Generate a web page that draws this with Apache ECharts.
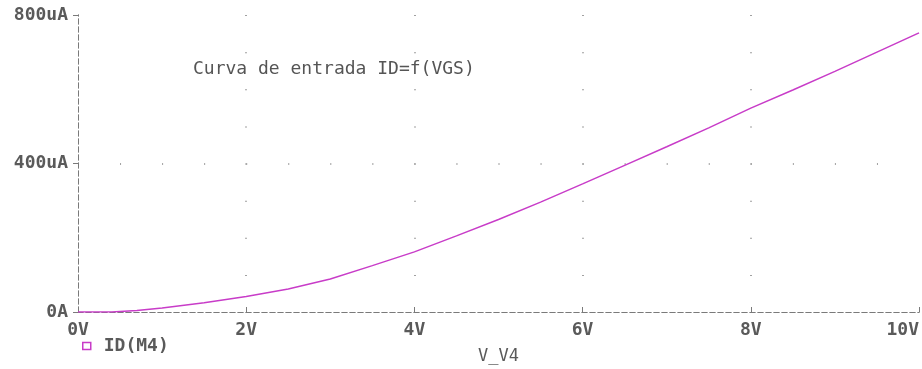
<!DOCTYPE html>
<html>
<head>
<meta charset="utf-8">
<script src="https://cdn.jsdelivr.net/npm/echarts@6/dist/echarts.min.js"></script>
<style>
  html, body { margin: 0; padding: 0; background: #ffffff; }
  #chart { width: 922px; height: 369px; }
</style>
</head>
<body>
<div id="chart"></div>
<script>
// gate voltage sweep (V) and drain current (uA)
var vgs = [0, 0.4, 0.7, 1, 1.5, 2, 2.5, 3, 3.5, 4, 4.5, 5, 5.5, 6, 6.5, 7, 7.5, 8, 8.5, 9, 9.5, 10];
var idUA = [0, 0, 4, 11, 25, 42, 62, 89, 125, 162, 205, 249, 296, 345, 395, 445, 496, 549, 598, 648, 700, 752];

var yTicks = { 0: '0A', 400: '400uA', 800: '800uA' };
var seriesName = 'ID(M4)';
var titleText = 'Curva de entrada ID=f(VGS)';
var xName = 'V_V4';

var chart = echarts.init(document.getElementById('chart'), null, { renderer: 'canvas' });

var labelFont = {
  fontFamily: 'DejaVu Sans Mono',
  fontWeight: 'bold',
  fontSize: 18,
  color: '#5a5a5a'
};

var dashLine = { color: '#7a7a7a', width: 1, type: [5, 3] };
var dotColor = '#a0a0a0';

var points = vgs.map(function (v, i) { return [v, idUA[i]]; });

chart.setOption({
  backgroundColor: '#ffffff',
  animation: false,
  title: {
    text: titleText,
    left: 188,
    top: 55,
    textStyle: {
      fontFamily: 'DejaVu Sans Mono',
      fontWeight: 'normal',
      fontSize: 18,
      color: '#555555'
    }
  },
  legend: {
    left: 77,
    top: 332,
    itemWidth: 8,
    itemHeight: 7,
    icon: 'rect',
    data: [{
      name: seriesName,
      itemStyle: { color: 'transparent', borderColor: '#c83cc8', borderWidth: 1.5 }
    }],
    textStyle: Object.assign({}, labelFont, { padding: [0, 0, 0, 8] })
  },
  grid: { left: 78, right: 3, top: 15, bottom: 57, containLabel: false, outerBoundsMode: 'none' },
  xAxis: [{
    type: 'value',
    min: 0,
    max: 10,
    interval: 2,
    position: 'bottom',
    name: xName,
    nameLocation: 'middle',
    nameGap: 36,
    nameTextStyle: Object.assign({}, labelFont, { fontWeight: 'normal', fontSize: 17 }),
    axisLine: { lineStyle: dashLine },
    axisTick: { show: true, inside: true, length: 5, lineStyle: { color: '#7a7a7a' } },
    axisLabel: {
      margin: 9,
      alignMaxLabel: 'right',
      formatter: function (v) { return v + 'V'; },
      fontFamily: labelFont.fontFamily,
      fontWeight: labelFont.fontWeight,
      fontSize: labelFont.fontSize,
      color: labelFont.color
    },
    splitLine: {
      show: true,
      lineStyle: {
        color: ['transparent', dotColor, dotColor, dotColor, dotColor, 'transparent'],
        width: 2,
        type: [1, 36.125]
      }
    }
  }, {
    type: 'value',
    min: 0,
    max: 10,
    position: 'top',
    axisLine: { show: true, lineStyle: dashLine },
    axisTick: { show: false },
    axisLabel: { show: false },
    splitLine: { show: false }
  }],
  yAxis: [{
    type: 'value',
    min: 0,
    max: 800,
    interval: 400,
    position: 'left',
    axisLine: { show: true, lineStyle: dashLine },
    axisTick: { show: true, length: 5, lineStyle: { color: '#7a7a7a' } },
    axisLabel: {
      margin: 10,
      formatter: function (v) { return yTicks[v]; },
      fontFamily: labelFont.fontFamily,
      fontWeight: labelFont.fontWeight,
      fontSize: labelFont.fontSize,
      color: labelFont.color
    },
    splitLine: {
      show: true,
      lineStyle: {
        color: ['transparent', dotColor, 'transparent'],
        width: 2,
        type: [1, 41.05]
      }
    }
  }, {
    type: 'value',
    min: 0,
    max: 800,
    position: 'right',
    axisLine: { show: true, lineStyle: dashLine },
    axisTick: { show: false },
    axisLabel: { show: false },
    splitLine: { show: false }
  }],
  series: [{
    name: seriesName,
    type: 'line',
    xAxisIndex: 0,
    yAxisIndex: 0,
    data: points,
    smooth: false,
    showSymbol: false,
    lineStyle: { color: '#c83cc8', width: 1.5 },
    itemStyle: { color: '#c83cc8' }
  }]
});
</script>
</body>
</html>
